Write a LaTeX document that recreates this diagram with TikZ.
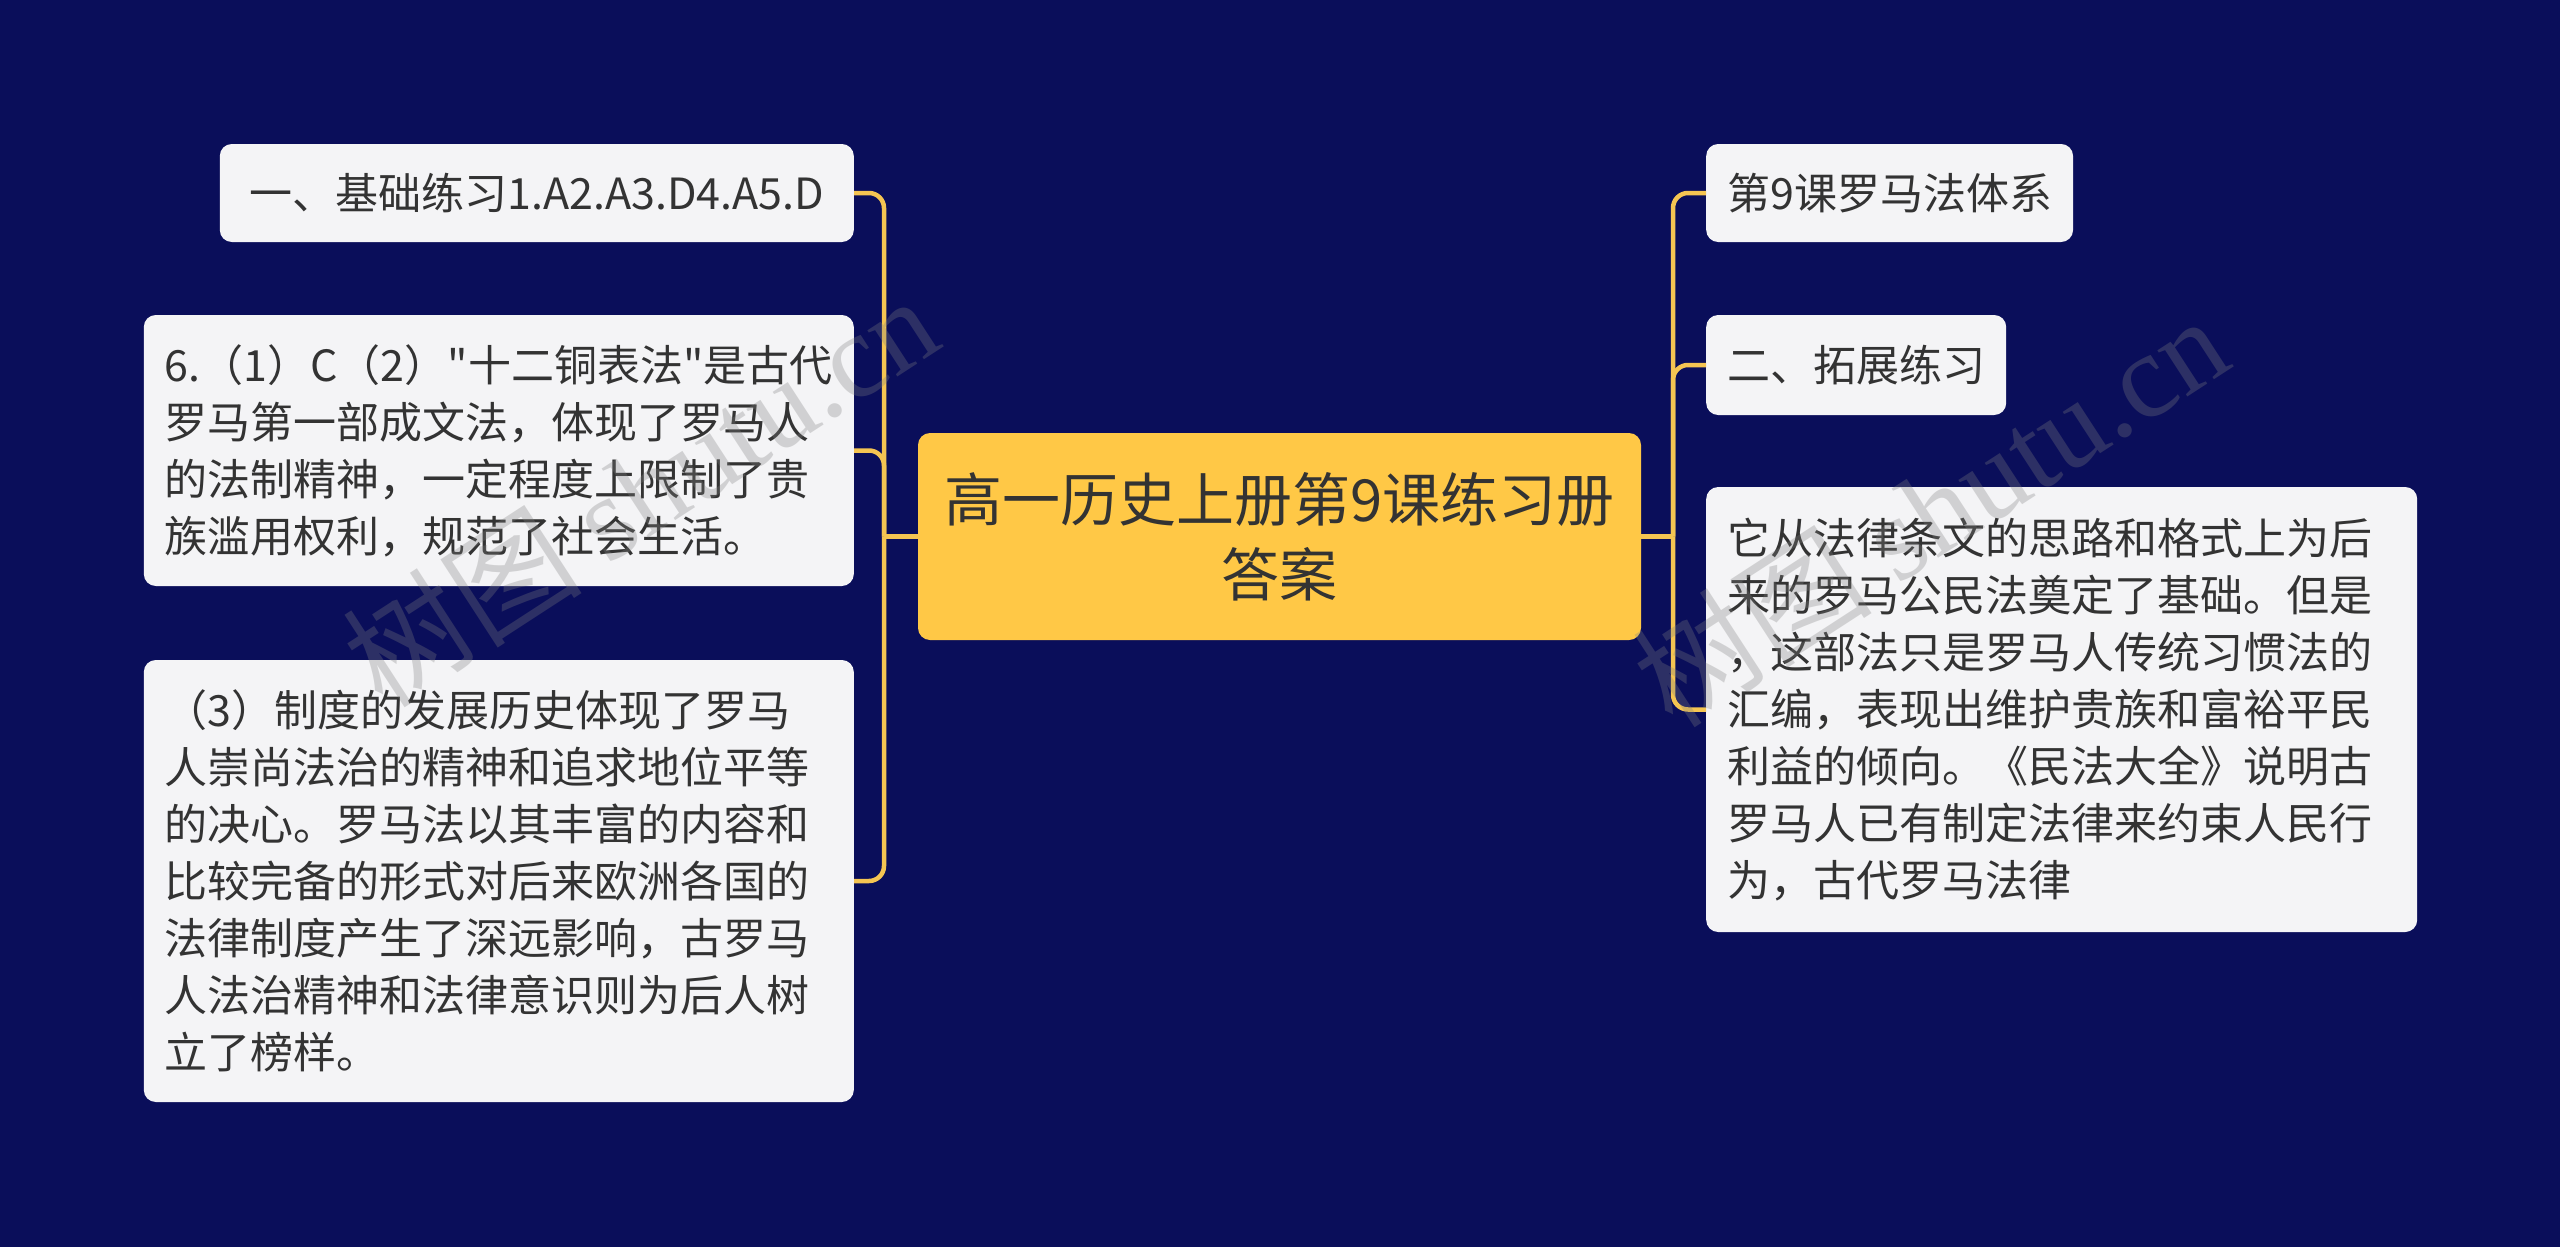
\documentclass[tikz,border=0pt]{standalone}
\usepackage{fontspec}
\setmainfont{Noto Sans CJK SC}
\newfontfamily\cjk{Noto Sans CJK SC}
\newfontfamily\wmserif{Liberation Serif}
\definecolor{bg}{RGB}{10,14,90}
\definecolor{gold}{RGB}{255,200,70}
\definecolor{lineg}{RGB}{245,197,82}
\definecolor{leaf}{RGB}{244,244,246}
\definecolor{ink}{RGB}{51,51,51}
\begin{document}
\begin{tikzpicture}[x=1pt,y=-1pt,
  leafbox/.style={fill=leaf, rounded corners=12pt, text=ink, font=\cjk\fontsize{43}{57}\selectfont, inner xsep=21pt, inner ysep=0pt, align=left},
  rootbox/.style={fill=gold, rounded corners=12pt, text=ink, font=\cjk\fontsize{58}{75}\selectfont, align=center, minimum width=723pt, minimum height=207pt, inner sep=0pt},
  conn/.style={draw=lineg, line width=4.5pt, rounded corners=15pt},
  wmark/.style={rotate=33, text=gray, opacity=0.3, inner sep=0pt}]
\fill[bg] (0,0) rectangle (2560,1247);
\useasboundingbox (0,0) rectangle (2560,1247);

\node[rootbox] (root) at (1279.5,536.5) {高一历史上册第9课练习册\\答案};

\node[leafbox, anchor=east, minimum height=98pt, minimum width=634pt] (l1) at (854,193) {一、基础练习1.A2.A3.D4.A5.D};
\node[leafbox, anchor=east, text width=668pt, minimum height=271pt] (l2) at (854,450.5) {6.（1）C（2）"十二铜表法"是古代\\罗马第一部成文法，体现了罗马人\\的法制精神，一定程度上限制了贵\\族滥用权利，规范了社会生活。};
\node[leafbox, anchor=east, text width=668pt, minimum height=442pt] (l3) at (854,881) {（3）制度的发展历史体现了罗马\\人崇尚法治的精神和追求地位平等\\的决心。罗马法以其丰富的内容和\\比较完备的形式对后来欧洲各国的\\法律制度产生了深远影响，古罗马\\人法治精神和法律意识则为后人树\\立了榜样。};

\node[leafbox, anchor=west, minimum height=98pt] (r1) at (1706,193) {第9课罗马法体系};
\node[leafbox, anchor=west, minimum height=100pt] (r2) at (1706,365) {二、拓展练习};
\node[leafbox, anchor=west, text width=669pt, minimum height=445pt] (r3) at (1706,709.5) {它从法律条文的思路和格式上为后\\来的罗马公民法奠定了基础。但是\\，这部法只是罗马人传统习惯法的\\汇编，表现出维护贵族和富裕平民\\利益的倾向。《民法大全》说明古\\罗马人已有制定法律来约束人民行\\为，古代罗马法律};

\coordinate (lb) at (884,536.5);
\coordinate (rb) at (1673,536.5);
\draw[conn] (root.west) -- (lb);
\draw[conn] (lb) |- (l1.east);
\draw[conn] (lb) |- (l2.east);
\draw[conn] (lb) |- (l3.east);
\draw[conn] (root.east) -- (rb);
\draw[conn] (rb) |- (r1.west);
\draw[conn] (rb) |- (r2.west);
\draw[conn] (rb) |- (r3.west);

\node[wmark] (wm1) at (640,490) {\cjk\fontsize{120}{130}\selectfont 树图 \wmserif shutu.cn};
\node[wmark] (wm2) at (1930,510) {\cjk\fontsize{120}{130}\selectfont 树图 \wmserif shutu.cn};
\end{tikzpicture}
\end{document}
